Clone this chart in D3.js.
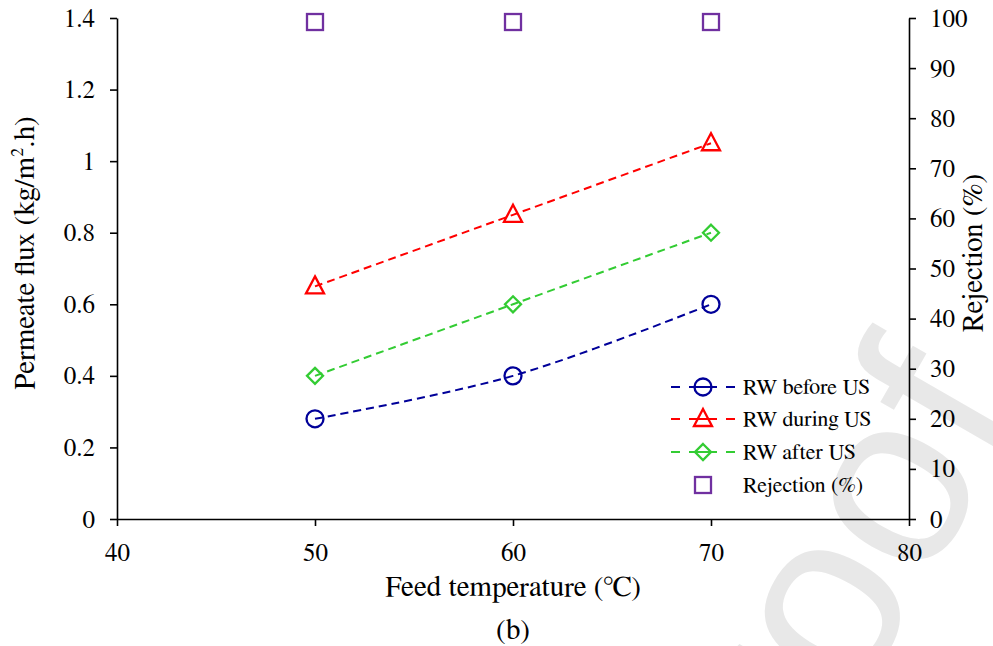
<!DOCTYPE html>
<html><head><meta charset="utf-8">
<script src="https://cdn.jsdelivr.net/npm/d3@7"></script>
<style>body{margin:0;background:#fff}</style>
</head><body><svg id="c" width="993" height="646"></svg>
<script>
const temps = [50, 60, 70];
const rwBefore = [0.28, 0.40, 0.60];
const rwDuring = [0.65, 0.85, 1.05];
const rwAfter = [0.40, 0.60, 0.80];
const rejection = [99.2, 99.2, 99.2];
const xTicks = [40, 50, 60, 70, 80];
const yLeftTicks = [0, 0.2, 0.4, 0.6, 0.8, 1, 1.2, 1.4];
const yRightTicks = [0, 10, 20, 30, 40, 50, 60, 70, 80, 90, 100];
const seriesNames = ["RW before US", "RW during US", "RW after US", "Rejection (%)"];

const SERIF = "FreeSerif, 'Noto Serif CJK SC', serif";
const svg = d3.select("#c").style("font-family", SERIF);
const L = 117, R = 909, T = 18, B = 519;
const x = d3.scaleLinear().domain([40, 80]).range([L, R]);
const yL = d3.scaleLinear().domain([0, 1.4]).range([B, T]);
const yR = d3.scaleLinear().domain([0, 100]).range([B, T]);

// watermark
svg.append("text").attr("transform", "translate(732,918) rotate(-60)")
  .style("font-family", "'Liberation Sans', Arial, sans-serif").attr("font-size", 245).attr("fill", "#e8e8e8")
  .text("Proof");

const sers = [
  {name: seriesNames[0], vals: rwBefore, color: "#000099", shape: "circle"},
  {name: seriesNames[1], vals: rwDuring, color: "#ff0000", shape: "triangle"},
  {name: seriesNames[2], vals: rwAfter, color: "#33cc33", shape: "diamond"}
];

function marker(g, shape, cx, cy, color) {
  if (shape === "circle") g.append("circle").attr("cx", cx).attr("cy", cy).attr("r", 8.5);
  else if (shape === "triangle") g.append("path").attr("d", `M${cx},${cy-10}L${cx+9},${cy+7}L${cx-9},${cy+7}Z`);
  else if (shape === "diamond") g.append("path").attr("d", `M${cx},${cy-8}L${cx+8},${cy}L${cx},${cy+8}L${cx-8},${cy}Z`);
  else if (shape === "square") g.append("rect").attr("x", cx-8).attr("y", cy-8).attr("width", 16).attr("height", 16);
  g.selectAll("*").attr("fill", "none").attr("stroke", color).attr("stroke-width", 2.3);
}

const line = d3.line().x(d => x(d[0])).y(d => yL(d[1])).curve(d3.curveCatmullRom.alpha(0.5));
sers.forEach(s => {
  const pts = temps.map((t, i) => [t, s.vals[i]]);
  svg.append("path").attr("d", line(pts)).attr("fill", "none").attr("stroke", s.color)
    .attr("stroke-width", 2).attr("stroke-dasharray", "8,5");
  pts.forEach(p => marker(svg.append("g"), s.shape, x(p[0]), yL(p[1]), s.color));
});
temps.forEach((t, i) => marker(svg.append("g"), "square", x(t), yR(rejection[i]), "#7030a0"));

// axes
const ax = svg.append("g").attr("transform", `translate(0,${B})`)
  .call(d3.axisBottom(x).tickValues(xTicks).tickSize(7).tickSizeOuter(0).tickPadding(17));
const ayl = svg.append("g").attr("transform", `translate(${L},0)`)
  .call(d3.axisLeft(yL).tickValues(yLeftTicks).tickFormat(d => String(d)).tickSize(7).tickSizeOuter(0).tickPadding(15));
const ayr = svg.append("g").attr("transform", `translate(${R},0)`)
  .call(d3.axisRight(yR).tickValues(yRightTicks).tickSize(7).tickSizeOuter(0).tickPadding(14));
[ax, ayl, ayr].forEach(a => {
  a.attr("font-family", null).style("font-family", SERIF).attr("font-size", 25);
  a.select(".domain").attr("stroke", "#000").attr("stroke-width", 1.6);
  a.selectAll(".tick line").attr("stroke", "#000").attr("stroke-width", 1.6);
  a.selectAll(".tick text").attr("fill", "#000");
});

// titles
svg.append("text").attr("x", 513).attr("y", 596).attr("text-anchor", "middle").attr("font-size", 29)
  .text("Feed temperature (℃)");
svg.append("text").attr("x", 513).attr("y", 639).attr("text-anchor", "middle").attr("font-size", 29).text("(b)");
const lt = svg.append("text").attr("transform", "translate(34,253) rotate(-90)").attr("text-anchor", "middle").attr("font-size", 29);
lt.append("tspan").text("Permeate flux (kg/m");
lt.append("tspan").attr("dy", -11).attr("font-size", 18).text("2");
lt.append("tspan").attr("dy", 11).text(".h)");
svg.append("text").attr("transform", "translate(982,253) rotate(-90)").attr("text-anchor", "middle").attr("font-size", 29)
  .text("Rejection (%)");

// legend
const legY = [387, 419, 452, 485];
sers.forEach((s, i) => {
  svg.append("line").attr("x1", 671).attr("x2", 735).attr("y1", legY[i]).attr("y2", legY[i])
    .attr("stroke", s.color).attr("stroke-width", 2).attr("stroke-dasharray", "9,9,28,9,9");
  marker(svg.append("g"), s.shape, 703, legY[i], s.color);
  svg.append("text").attr("x", 743).attr("y", legY[i] + 7).attr("font-size", 22).text(s.name);
});
marker(svg.append("g"), "square", 703, legY[3], "#7030a0");
svg.append("text").attr("x", 743).attr("y", legY[3] + 7).attr("font-size", 22).text(seriesNames[3]);
</script></body></html>
